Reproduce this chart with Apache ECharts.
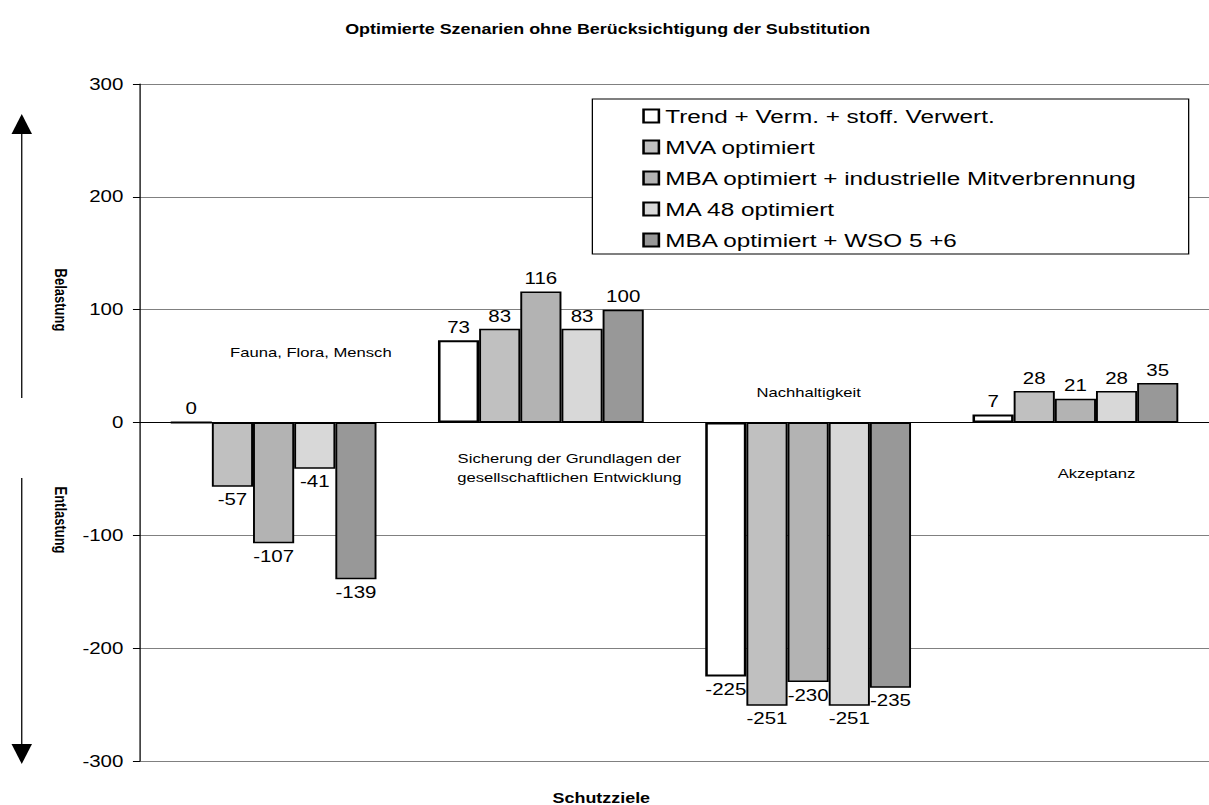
<!DOCTYPE html>
<html>
<head>
<meta charset="utf-8">
<title>Optimierte Szenarien ohne Berücksichtigung der Substitution</title>
<script src="https://cdn.jsdelivr.net/npm/echarts@6/dist/echarts.min.js"></script>
<style>
  html, body { margin: 0; padding: 0; background: #fff; overflow: hidden; }
  /* the original chart is stretched horizontally, so draw it narrower and stretch */
  #chart { width: 945px; height: 805px; transform: scaleX(1.2794); transform-origin: 0 0; }
</style>
</head>
<body>
<div id="chart"></div>
<script>
// Schutzziele (Kategorien)
var categories = ['Fauna, Flora, Mensch',
                  'Sicherung der Grundlagen der\ngesellschaftlichen Entwicklung',
                  'Nachhaltigkeit', 'Akzeptanz'];

var seriesNames = ['Trend + Verm. + stoff. Verwert.', 'MVA optimiert',
                   'MBA optimiert + industrielle Mitverbrennung', 'MA 48 optimiert',
                   'MBA optimiert + WSO 5 +6'];

var trendVerm   = [0, 73, -225, 7];
var mvaOpt      = [-57, 83, -251, 28];
var mbaIndustr  = [-107, 116, -230, 21];
var ma48Opt     = [-41, 83, -251, 28];
var mbaWso      = [-139, 100, -235, 35];

var yTicks = [-300, -200, -100, 0, 100, 200, 300];

var colors = ['#ffffff', '#c0c0c0', '#b3b3b3', '#d8d8d8', '#989898'];
var allValues = [trendVerm, mvaOpt, mbaIndustr, ma48Opt, mbaWso];

var font = '"Liberation Sans", Arial, sans-serif';

var myChart = echarts.init(document.getElementById('chart'), null, { renderer: 'svg' });

var series = allValues.map(function (vals, i) {
    return {
        name: seriesNames[i],
        type: 'bar',
        barGap: '0%',
        barCategoryGap: '23%',
        itemStyle: { color: colors[i], borderColor: '#000', borderWidth: i === 0 ? 2 : 1.5 },
        data: vals.map(function (v) {
            return {
                value: v,
                label: { position: v < 0 ? 'bottom' : 'top' }
            };
        }),
        label: {
            show: true,
            distance: 5,
            color: '#000',
            fontSize: 16,
            fontFamily: font
        }
    };
});

// Kategorietexte im Diagramm
var catLabels = [
    { text: categories[0], x: 243, y: 352 },
    { text: categories[1], x: 445, y: 468 },
    { text: categories[2], x: 632, y: 392 },
    { text: categories[3], x: 857, y: 473 }
];

var graphics = catLabels.map(function (c) {
    return {
        type: 'text', x: c.x, y: c.y,
        style: { text: c.text, fill: '#000', font: '13px ' + font,
                 align: 'center', verticalAlign: 'middle', lineHeight: 19 }
    };
});

graphics.push(
    { type: 'line', shape: { x1: 17, y1: 130, x2: 17, y2: 398 }, style: { stroke: '#000', lineWidth: 1 } },
    { type: 'polygon', shape: { points: [[17, 114], [9, 134], [25, 134]] }, style: { fill: '#000' } },
    { type: 'line', shape: { x1: 17, y1: 478, x2: 17, y2: 746 }, style: { stroke: '#000', lineWidth: 1 } },
    { type: 'polygon', shape: { points: [[17, 764], [9, 744], [25, 744]] }, style: { fill: '#000' } },
    { type: 'text', x: 48, y: 300, rotation: -Math.PI / 2,
      style: { text: 'Belastung', fill: '#000', font: 'bold 13px ' + font, align: 'center', verticalAlign: 'middle' } },
    { type: 'text', x: 48, y: 520, rotation: -Math.PI / 2,
      style: { text: 'Entlastung', fill: '#000', font: 'bold 13px ' + font, align: 'center', verticalAlign: 'middle' } },
    { type: 'text', x: 470, y: 798,
      style: { text: 'Schutzziele', fill: '#000', font: 'bold 14px ' + font, align: 'center', verticalAlign: 'middle' } }
);

var option = {
    animation: false,
    backgroundColor: '#fff',
    title: {
        text: 'Optimierte Szenarien ohne Berücksichtigung der Substitution',
        left: 470,
        textAlign: 'center',
        top: 17,
        textStyle: { fontFamily: font, fontSize: 14, fontWeight: 'bold', color: '#000' }
    },
    legend: {
        orient: 'vertical',
        left: 463,
        top: 99,
        padding: [7, 40, 4, 39],
        itemGap: 11,
        itemWidth: 12,
        itemHeight: 13,
        borderColor: '#000',
        borderWidth: 1,
        backgroundColor: '#fff',
        icon: 'rect',
        textStyle: { fontFamily: font, fontSize: 19, color: '#000', lineHeight: 20 },
        data: seriesNames
    },
    grid: { left: 109.4, top: 84, bottom: 44, width: 844 },
    xAxis: {
        type: 'category',
        data: categories,
        axisLine: { onZero: true, lineStyle: { color: '#000', width: 1 } },
        axisTick: { show: false },
        axisLabel: { show: false }
    },
    yAxis: {
        type: 'value',
        min: yTicks[0],
        max: yTicks[yTicks.length - 1],
        interval: 100,
        axisLine: { show: true, lineStyle: { color: '#000' } },
        axisTick: { show: true, length: 5.5, lineStyle: { color: '#000' } },
        axisLabel: { color: '#000', fontSize: 16, fontFamily: font, margin: 13 },
        splitLine: { lineStyle: { color: '#808080', width: 1 } }
    },
    graphic: graphics,
    series: series
};

myChart.setOption(option);
</script>
</body>
</html>
